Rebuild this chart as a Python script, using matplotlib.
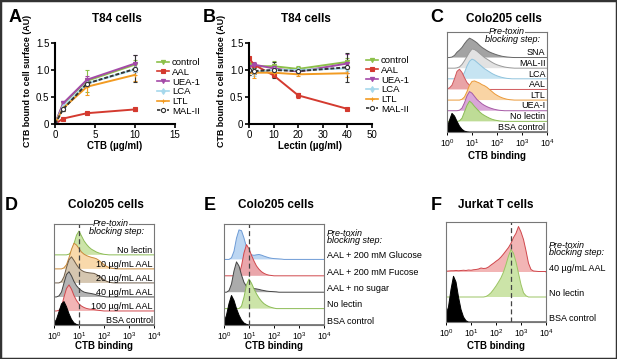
import numpy as np
import matplotlib
matplotlib.use("Agg")
import matplotlib.pyplot as plt
from matplotlib.patches import Rectangle
from matplotlib.lines import Line2D

plt.rcParams['font.family'] = ['Liberation Sans', 'DejaVu Sans']
plt.rcParams['mathtext.fontset'] = 'custom'
plt.rcParams['mathtext.rm'] = 'Liberation Sans'
plt.rcParams['mathtext.it'] = 'Liberation Sans:italic'

W, H = 617, 359

# ---- panels A/B: dose curves ----
lectins = ['control', 'AAL', 'UEA-1', 'LCA', 'LTL', 'MAL-II']
line_colors = ['#8cc04a', '#d43a2f', '#a44aa8', '#a6d8ec', '#f29b22', '#333333']
line_markers = ['v', 's', 'v', 'd', '+', 'o']

ctb_dose = [0, 1, 4, 10]
A_control = [0, 0.37, 0.80, 1.10]
A_aal = [0, 0.10, 0.20, 0.27]
A_uea = [0, 0.38, 0.82, 1.12]
A_lca = [0, 0.32, 0.75, 1.01]
A_ltl = [0, 0.29, 0.69, 0.91]
A_mal = [0, 0.27, 0.75, 1.02]
A_err_control = [0, 0.06, 0.20, 0.08]
A_err_aal = [0, 0.01, 0.02, 0.02]
A_err_uea = [0, 0.04, 0.06, 0.15]
A_err_lca = [0, 0.05, 0.05, 0.05]
A_err_ltl = [0, 0.05, 0.15, 0.12]
A_err_mal = [0, 0.03, 0.05, 0.25]

lectin_dose = [0, 2, 10, 20, 40]
B_control = [1.10, 1.07, 1.07, 1.02, 1.15]
B_aal = [1.22, 1.10, 0.90, 0.53, 0.28]
B_uea = [1.05, 1.10, 1.03, 0.97, 1.12]
B_lca = [0.97, 0.96, 1.00, 1.00, 1.03]
B_ltl = [0.95, 0.95, 0.95, 0.92, 0.94]
B_mal = [1.00, 0.98, 1.00, 0.98, 1.05]
B_err_control = [0.05, 0.04, 0.10, 0.06, 0.08]
B_err_aal = [0.03, 0.02, 0.03, 0.04, 0.02]
B_err_uea = [0.05, 0.04, 0.05, 0.04, 0.18]
B_err_lca = [0.06, 0.08, 0.05, 0.03, 0.05]
B_err_ltl = [0.05, 0.10, 0.05, 0.03, 0.07]
B_err_mal = [0.10, 0.05, 0.15, 0.04, 0.27]

# ---- flow histograms: counts every 0.1 decade from a start decade ----
STEP = 0.1

C_labels = ['SNA', 'MAL-II', 'LCA', 'AAL', 'LTL', 'UEA-I', 'No lectin', 'BSA control']
C_start = [0.1, 0.3, 0.4, 0.0, 0.5, 0.4, 0.4, 0.0]
C_counts = [
    [0.0, 0.05, 0.2, 0.5, 0.7, 0.95, 1.3, 1.6, 1.82, 1.7, 1.55, 1.38, 1.15, 0.95, 0.8, 0.65,
     0.52, 0.42, 0.33, 0.25, 0.18, 0.12, 0.08, 0.05, 0.03, 0.01, 0.0],
    [0.0, 0.03, 0.12, 0.35, 0.7, 1.1, 1.5, 1.8, 1.75, 1.6, 1.4, 1.2, 1.0, 0.85, 0.7, 0.55,
     0.42, 0.32, 0.24, 0.17, 0.11, 0.07, 0.04, 0.02, 0.0],
    [0.0, 0.05, 0.2, 0.6, 1.2, 1.65, 1.85, 1.75, 1.55, 1.35, 1.15, 0.95, 0.8, 0.65, 0.5, 0.38,
     0.28, 0.2, 0.13, 0.08, 0.04, 0.02, 0.0],
    [0.05, 0.15, 0.4, 1.0, 1.7, 1.9, 1.6, 1.1, 0.65, 0.4, 0.25, 0.15, 0.1, 0.06, 0.04, 0.02, 0.0],
    [0.0, 0.08, 0.3, 0.8, 1.4, 1.75, 1.8, 1.7, 1.6, 1.45, 1.35, 1.2, 1.0, 0.8, 0.6, 0.45,
     0.32, 0.22, 0.14, 0.08, 0.04, 0.02, 0.0],
    [0.0, 0.05, 0.25, 0.75, 1.4, 1.8, 1.65, 1.35, 1.05, 0.85, 0.65, 0.5, 0.38, 0.28, 0.2, 0.13,
     0.08, 0.04, 0.02, 0.0],
    [0.0, 0.05, 0.3, 0.9, 1.5, 1.9, 1.7, 1.4, 1.15, 0.9, 0.7, 0.55, 0.42, 0.3, 0.2, 0.13,
     0.08, 0.04, 0.02, 0.0],
    [0.4, 1.1, 1.75, 1.5, 1.0, 0.55, 0.25, 0.08, 0.02, 0.0],
]
C_fill = ['#a3a3a3', '#e2e2e2', '#c6e4f2', '#e9a3a6', '#f9d4a4', '#d9a6d8', '#bedc96', '#000000']
C_edge = ['#666666', '#999999', '#8fc3dd', '#d0575c', '#eb9a3a', '#a65aa6', '#8cbc56', '#000000']

D_labels = ['No lectin', '10 µg/mL AAL', '20 µg/mL AAL', '40 µg/mL AAL', '100 µg/mL AAL', 'BSA control']
D_start = [0.5, 0.3, 0.2, 0.1, 0.1, 0.0]
D_counts = [
    [0.0, 0.05, 0.25, 0.8, 1.4, 1.7, 1.35, 1.0, 0.75, 0.55, 0.4, 0.3, 0.2, 0.13, 0.08, 0.04, 0.02, 0.0],
    [0.0, 0.08, 0.3, 0.8, 1.4, 1.83, 1.7, 1.45, 1.2, 1.05, 0.95, 0.88, 0.82, 0.78, 0.72, 0.6,
     0.45, 0.3, 0.18, 0.1, 0.05, 0.02, 0.0],
    [0.0, 0.1, 0.45, 1.1, 1.65, 1.86, 1.6, 1.3, 1.05, 0.9, 0.8, 0.75, 0.72, 0.7, 0.68, 0.6,
     0.48, 0.35, 0.22, 0.12, 0.06, 0.02, 0.0],
    [0.0, 0.08, 0.35, 1.0, 1.6, 1.8, 1.5, 1.1, 0.8, 0.6, 0.45, 0.35, 0.3, 0.27, 0.24, 0.2,
     0.15, 0.1, 0.06, 0.03, 0.0],
    [0.0, 0.05, 0.3, 1.0, 1.6, 1.86, 1.55, 1.1, 0.75, 0.5, 0.35, 0.25, 0.18, 0.14, 0.12, 0.1,
     0.07, 0.04, 0.02, 0.0],
    [0.1, 0.4, 0.95, 1.5, 1.67, 1.3, 0.8, 0.4, 0.15, 0.04, 0.0],
]
D_fill = ['#cce4a8', '#f9d9ab', '#d5c6b0', '#b4b4b4', '#f2b5b5', '#000000']
D_edge = ['#8cbc56', '#c98a3a', '#6e5d4a', '#444444', '#d0474c', '#000000']

E_labels = ['AAL + 200 mM Glucose', 'AAL + 200 mM Fucose', 'AAL + no sugar', 'No lectin', 'BSA control']
E_start = [0.2, 0.5, 0.1, 0.6, 0.0]
E_counts = [
    [0.0, 0.1, 0.5, 1.3, 1.8, 1.75, 1.3, 0.75, 0.4, 0.28, 0.25, 0.28, 0.3, 0.26, 0.2, 0.15,
     0.1, 0.07, 0.05, 0.04, 0.03, 0.02, 0.0],
    [0.0, 0.1, 0.6, 1.4, 1.9, 1.65, 1.25, 0.9, 0.6, 0.4, 0.25, 0.15, 0.08, 0.04, 0.02, 0.0],
    [0.0, 0.1, 0.5, 1.3, 1.85, 1.6, 1.05, 0.6, 0.35, 0.25, 0.22, 0.22, 0.2, 0.17, 0.13, 0.1,
     0.07, 0.05, 0.04, 0.03, 0.02, 0.0],
    [0.0, 0.15, 0.7, 1.45, 1.8, 1.55, 1.2, 0.9, 0.65, 0.45, 0.3, 0.2, 0.12, 0.07, 0.03, 0.0],
    [0.15, 0.6, 1.3, 1.8, 1.5, 1.0, 0.6, 0.3, 0.12, 0.04, 0.0],
]
E_fill = ['#bcd6f2', '#eaa6ab', '#ababab', '#cce4a8', '#000000']
E_edge = ['#6d9bd6', '#d0474c', '#444444', '#8cbc56', '#000000']

F_labels = ['40 µg/mL AAL', 'No lectin', 'BSA control']
F_start = [0.0, 1.5, 0.0]
F_counts = [
    [0.03, 0.04, 0.05, 0.05, 0.06, 0.05, 0.06, 0.07, 0.06, 0.08, 0.07, 0.09, 0.1, 0.12, 0.16,
     0.14, 0.15, 0.2, 0.28, 0.35, 0.43, 0.5, 0.6, 0.72, 0.85, 0.98, 1.15, 1.38, 1.55, 1.82,
     1.6, 1.3, 0.85, 0.35, 0.1, 0.04, 0.03, 0.02, 0.02, 0.02, 0.02],
    [0.0, 0.02, 0.08, 0.17, 0.3, 0.44, 0.6, 0.77, 1.0, 1.3, 1.64, 1.9, 1.75, 1.4, 0.95, 0.5,
     0.17, 0.05, 0.0],
    [0.3, 0.6, 1.3, 1.83, 1.6, 1.0, 0.5, 0.2, 0.05, 0.0],
]
F_fill = ['#f2b5b5', '#cce4a8', '#000000']
F_edge = ['#d0474c', '#9cc464', '#000000']


def axes_px(left, top, right, bottom):
    return fig.add_axes([left / W, 1 - bottom / H, (right - left) / W, (bottom - top) / H])


def ftext(px, py, s, **kw):
    fig.text(px / W, 1 - py / H, s, **kw)


def dose_panel(ax, dose, series, errs, xmax, xticks, xlabel, legend_xy):
    handles = []
    for vals, err, name, col, mk in zip(series, errs, lectins, line_colors, line_markers):
        ls = (0, (2, 1)) if name == 'MAL-II' else '-'
        mfc = 'white' if name == 'MAL-II' else col
        ax.errorbar(dose, vals, yerr=err, color=col, lw=1.4, ls=ls, marker=mk, ms=3,
                    mfc=mfc, mec=col, mew=0.8, elinewidth=0.8, capsize=1.5)
        handles.append(Line2D([], [], color=col, lw=1.2, ls=ls, marker=mk, ms=3,
                              mfc=mfc, mec=col, mew=0.8, label=name))
    ax.set_xlim(0, xmax)
    ax.set_ylim(0, 1.5)
    ax.set_xticks(xticks)
    ax.set_yticks([0, 0.5, 1.0, 1.5])
    ax.set_yticklabels(['0', '0.5', '1.0', '1.5'])
    for s in ['top', 'right']:
        ax.spines[s].set_visible(False)
    for s in ['left', 'bottom']:
        ax.spines[s].set_linewidth(1.5)
    ax.tick_params(labelsize=7, width=1.2, length=3, pad=1)
    ax.set_xlabel(xlabel, fontsize=7, fontweight='bold', labelpad=1)
    ax.set_ylabel('CTB bound to cell surface (AU)', fontsize=6.4, fontweight='bold')
    ax.yaxis.set_label_coords(-0.19, 0.53)
    ax.legend(handles=handles, loc='upper left',
              bbox_to_anchor=(legend_xy[0] / W, 1 - legend_xy[1] / H),
              bbox_transform=fig.transFigure, frameon=False, fontsize=6.8,
              handlelength=1.3, handletextpad=0.3, labelspacing=0.08, borderpad=0,
              borderaxespad=0)


def flow_panel(ax, starts, counts, fills, edges, ytop, dash=None):
    n = len(counts)
    for i, (s, c, fc, ec) in enumerate(zip(starts, counts, fills, edges)):
        row = n - 1 - i
        lx = np.concatenate(([0.0], s + STEP * np.arange(len(c)), [4.0]))
        ly = np.concatenate(([0.0], c, [0.0]))
        x = 10 ** lx
        ax.fill_between(x, row, row + ly, facecolor=fc, edgecolor='none', zorder=2 + i)
        ax.plot(x, row + ly, color=ec, lw=0.7, zorder=2 + i)
    if dash is not None:
        ax.axvline(dash, color='#444444', lw=0.9, dashes=(4, 2.5), zorder=20)
    ax.set_xscale('log')
    ax.set_xlim(1, 1e4)
    ax.set_ylim(0, ytop)
    ax.set_yticks([])
    ax.set_xticks([1, 10, 100, 1000, 10000])
    for s in ax.spines.values():
        s.set_linewidth(0.8)
        s.set_color('#777777')
        s.set_zorder(30)
    ax.tick_params(axis='x', which='major', labelsize=6.2, length=2.5, width=0.7, pad=1)
    ax.tick_params(axis='x', which='minor', length=1.3, width=0.5)


fig = plt.figure(figsize=(W / 100, H / 100), dpi=100)

# A
axA = axes_px(55, 43, 175, 124)
dose_panel(axA, ctb_dose, [A_control, A_aal, A_uea, A_lca, A_ltl, A_mal],
           [A_err_control, A_err_aal, A_err_uea, A_err_lca, A_err_ltl, A_err_mal],
           15, [0, 5, 10, 15], 'CTB (µg/ml)', (157, 58))

# B
axB = axes_px(249, 43, 372, 124)
dose_panel(axB, lectin_dose, [B_control, B_aal, B_uea, B_lca, B_ltl, B_mal],
           [B_err_control, B_err_aal, B_err_uea, B_err_lca, B_err_ltl, B_err_mal],
           50, [0, 10, 20, 30, 40, 50], 'Lectin (µg/ml)', (366, 56))

# C
axC = axes_px(447, 32, 547, 132)
flow_panel(axC, C_start, C_counts, C_fill, C_edge, 9.4)
for i, lab in enumerate(C_labels):
    axC.text(0.985, len(C_labels) - 1 - i + 0.45, lab, transform=axC.get_yaxis_transform(),
             ha='right', va='center', fontsize=6.5, zorder=40)

# D
axD = axes_px(54, 224, 154, 325)
flow_panel(axD, D_start, D_counts, D_fill, D_edge, 7.2, dash=10)
for i, lab in enumerate(D_labels):
    axD.text(0.985, len(D_labels) - 1 - i + 0.3, lab, transform=axD.get_yaxis_transform(),
             ha='right', va='center', fontsize=6.5, zorder=40)

# E
axE = axes_px(224, 224, 324, 325)
flow_panel(axE, E_start, E_counts, E_fill, E_edge, 6.16, dash=10)
for i, lab in enumerate(E_labels):
    axE.text(1.03, len(E_labels) - 1 - i + 0.22, lab, transform=axE.get_yaxis_transform(),
             ha='left', va='center', fontsize=6.5, clip_on=False)

# F
axF = axes_px(446, 222, 546, 322)
flow_panel(axF, F_start, F_counts, F_fill, F_edge, 4.0, dash=400)
for i, lab in enumerate(F_labels):
    axF.text(1.03, len(F_labels) - 1 - i + 0.15, lab, transform=axF.get_yaxis_transform(),
             ha='left', va='center', fontsize=6.5, clip_on=False)

# "Pre-toxin blocking step:" headers
pre_kw = dict(fontsize=6.5, style='italic', va='center', zorder=50)
ftext(489, 32, 'Pre-toxin', ha='left', bbox=dict(fc='white', ec='none', pad=0.3), **pre_kw)
ftext(485, 39.5, 'blocking step:', ha='left', **pre_kw)
ftext(93, 224, 'Pre-toxin', ha='left', bbox=dict(fc='white', ec='none', pad=0.3), **pre_kw)
ftext(89, 231.5, 'blocking step:', ha='left', **pre_kw)
ftext(327, 233, 'Pre-toxin', ha='left', **pre_kw)
ftext(327, 240.5, 'blocking step:', ha='left', **pre_kw)
ftext(549, 245, 'Pre-toxin', ha='left', **pre_kw)
ftext(549, 252.5, 'blocking step:', ha='left', **pre_kw)

# x labels of histograms
for px, py in [(497, 156), (104, 346), (274, 346), (496, 346)]:
    ftext(px, py, 'CTB binding', ha='center', va='center', fontsize=7, fontweight='bold')

# titles
title_kw = dict(fontsize=8.5, fontweight='bold', va='center')
ftext(117, 19, 'T84 cells', ha='center', **title_kw)
ftext(306, 19, 'T84 cells', ha='center', **title_kw)
ftext(504, 19, 'Colo205 cells', ha='center', **title_kw)
ftext(106, 205, 'Colo205 cells', ha='center', **title_kw)
ftext(238, 205, 'Colo205 cells', ha='left', **title_kw)
ftext(458, 205, 'Jurkat T cells', ha='left', **title_kw)

# panel letters
letter_kw = dict(fontsize=13, fontweight='bold', va='center', ha='left')
ftext(9, 17, 'A', **letter_kw)
ftext(203, 17, 'B', **letter_kw)
ftext(430, 17, 'C', **letter_kw)
ftext(5, 205, 'D', **letter_kw)
ftext(204, 205, 'E', **letter_kw)
ftext(431, 205, 'F', **letter_kw)

# outer frame
fig.add_artist(Rectangle((0, 0), 1, 1, transform=fig.transFigure, fill=False,
                         lw=2.5, ec='#333333'))

fig.savefig('out.png', dpi=100)
